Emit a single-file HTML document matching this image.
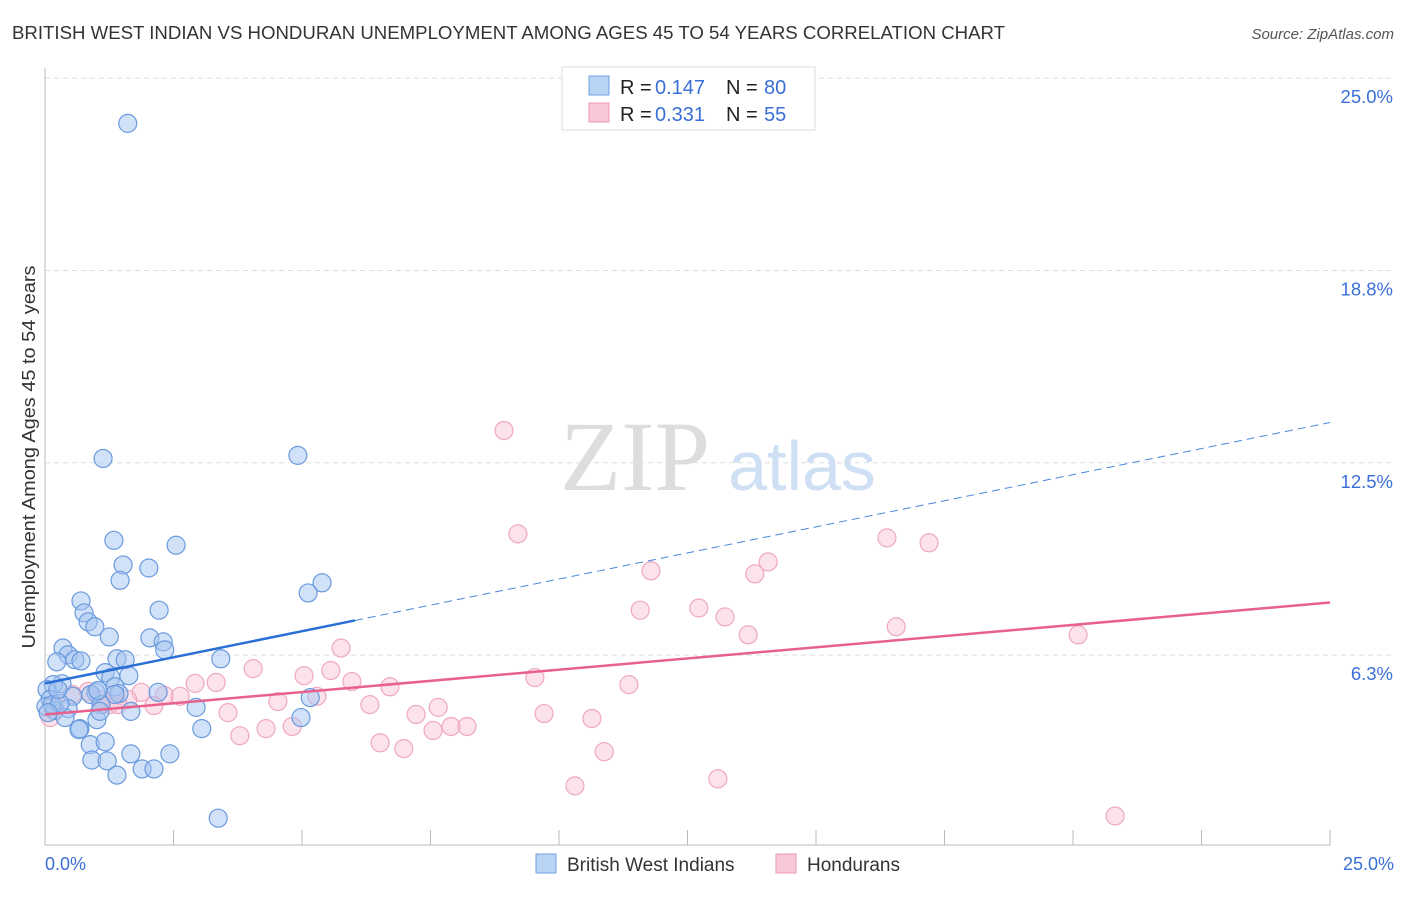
<!DOCTYPE html>
<html><head><meta charset="utf-8"><style>
body{margin:0;background:#fff;font-family:"Liberation Sans",sans-serif;}
svg text{font-family:"Liberation Sans",sans-serif;}
svg text.serif{font-family:"Liberation Serif",serif;}
</style></head><body>
<svg id="chart" width="1406" height="892">
<text x="12" y="39" font-size="18" fill="#333" textLength="993" lengthAdjust="spacingAndGlyphs">BRITISH WEST INDIAN VS HONDURAN UNEMPLOYMENT AMONG AGES 45 TO 54 YEARS CORRELATION CHART</text>
<text x="1394" y="39" font-size="15" fill="#555" font-style="italic" text-anchor="end">Source: ZipAtlas.com</text>
<g id="grid"></g>
<text class="serif" x="635" y="490" font-size="100" fill="#ddd" text-anchor="middle">ZIP</text>
<text x="802" y="490" font-size="70" fill="#cfe0f5" text-anchor="middle">atlas</text>
<line x1="45" y1="68" x2="45" y2="845" stroke="#bbb"/>
<line x1="45" y1="845" x2="1330" y2="845" stroke="#bbb"/>
<g id="xticks"></g>
<g id="points"></g>
<g id="trends"></g>
<text transform="translate(35,457) rotate(-90)" font-size="18.5" fill="#333" text-anchor="middle" textLength="383" lengthAdjust="spacingAndGlyphs">Unemployment Among Ages 45 to 54 years</text>
<text x="45" y="870" font-size="18" fill="#3a6fd8">0.0%</text>
<text x="1394" y="870" font-size="18" fill="#3a6fd8" text-anchor="end">25.0%</text>
<g>
<rect x="562" y="67" width="253" height="63" fill="#fff" stroke="#ddd"/>
<rect x="589" y="76" width="20" height="19" fill="#b9d3f5" stroke="#6fa0e0"/>
<rect x="589" y="103" width="20" height="19" fill="#f9c8d6" stroke="#e99ab4"/>
<g font-size="20">
<text x="620" y="94" fill="#222">R =</text><text x="655" y="94" fill="#3a6fd8">0.147</text>
<text x="726" y="94" fill="#222">N =</text><text x="764" y="94" fill="#3a6fd8">80</text></g>
<g font-size="20">
<text x="620" y="121" fill="#222">R =</text><text x="655" y="121" fill="#3a6fd8">0.331</text>
<text x="726" y="121" fill="#222">N =</text><text x="764" y="121" fill="#3a6fd8">55</text></g>
</g>
<g>
<rect x="536" y="854" width="20" height="19" fill="#b9d3f5" stroke="#6fa0e0"/>
<text x="567" y="871" font-size="19" fill="#333">British West Indians</text>
<rect x="776" y="854" width="20" height="19" fill="#f9c8d6" stroke="#e99ab4"/>
<text x="807" y="871" font-size="19" fill="#333">Hondurans</text>
</g>
</svg>
<script>
const yTicks=[6.25,12.5,18.75,25];
const yTickLabels=["6.3%","12.5%","18.8%","25.0%"];
const xTicks=[0,2.5,5,7.5,10,12.5,15,17.5,20,22.5,25];
const bwiX=[1.61,1.13,4.92,1.34,2.55,1.52,2.02,5.39,1.46,5.12,0.70,2.22,0.76,0.84,0.97,1.25,2.04,2.30,2.33,0.35,0.45,0.23,0.58,0.70,1.40,1.56,3.42,1.17,1.63,1.28,1.36,0.33,0.16,0.04,0.99,0.89,1.44,2.20,0.54,0.10,0.02,0.19,0.45,1.09,2.94,1.67,5.16,0.39,0.68,1.01,3.05,0.88,1.17,0.66,0.91,1.21,1.67,2.43,1.40,1.89,2.12,3.37,4.98,0.14,0.29,0.25,0.06,1.07,1.36,1.03];
const bwiY=[23.53,12.64,12.74,9.98,9.82,9.18,9.08,8.60,8.68,8.27,8.01,7.71,7.62,7.33,7.17,6.84,6.81,6.68,6.42,6.48,6.26,6.03,6.10,6.06,6.13,6.10,6.13,5.68,5.58,5.52,5.22,5.32,5.29,5.13,5.04,4.97,5.00,5.04,4.91,4.81,4.58,4.45,4.51,4.64,4.55,4.42,4.87,4.22,3.86,4.15,3.86,3.34,3.43,3.83,2.84,2.81,3.04,3.04,2.35,2.55,2.55,0.95,4.22,4.64,4.68,5.13,4.38,4.42,4.97,5.10];
const honX=[8.93,9.20,16.38,17.20,14.07,13.81,11.79,11.58,12.72,13.23,13.68,16.56,20.10,5.76,4.05,5.56,5.04,3.33,2.92,5.97,6.71,9.53,11.36,2.32,1.87,5.29,4.53,6.32,2.12,1.26,1.61,3.56,7.22,7.65,9.71,10.64,7.90,8.21,7.55,6.98,6.52,4.81,4.30,3.79,10.88,13.09,10.31,20.82,0.10,0.84,0.53,1.42,2.63,0.19,1.07];
const honY=[13.55,10.19,10.06,9.90,9.28,8.89,8.99,7.71,7.78,7.49,6.91,7.17,6.91,6.48,5.81,5.75,5.58,5.36,5.33,5.39,5.22,5.52,5.29,4.94,5.04,4.91,4.74,4.64,4.61,4.64,4.81,4.38,4.32,4.55,4.35,4.19,3.93,3.93,3.80,3.21,3.40,3.93,3.86,3.63,3.11,2.23,2.00,1.02,4.22,5.07,4.97,4.64,4.91,4.64,4.81];
const bwiTrend=[5.33,13.81];
const honTrend=[4.32,7.96];
const bwiSolidEnd=6.03;
const NS="http://www.w3.org/2000/svg";
const X=v=>45+v*51.4;
const Y=v=>847.4-v*30.77;
function mk(tag,attrs,parent){const e=document.createElementNS(NS,tag);for(const k in attrs)e.setAttribute(k,attrs[k]);parent.appendChild(e);return e;}
const grid=document.getElementById('grid');
yTicks.forEach((t,i)=>{
 const l=mk('line',{x1:45,x2:1394,y1:Y(t),y2:Y(t),stroke:'#ddd','stroke-dasharray':'5,4'},grid);
 
 
 const tx=mk('text',{x:1393,y:Y(t)+25,'font-size':18.5,fill:'#3a6fd8','text-anchor':'end'},grid);
 tx.textContent=yTickLabels[i];
 
 
});
const xt=document.getElementById('xticks');
xTicks.forEach(t=>{
 const l=mk('line',{x1:X(t),x2:X(t),y1:830,y2:845,stroke:'#bbb'},xt);
 
 
});
const pts=document.getElementById('points');
honX.forEach((x,i)=>{
 const c=mk('circle',{cx:X(x),cy:Y(honY[i]),r:9,fill:'rgba(248,190,208,0.45)',stroke:'#efa8c0','stroke-width':1.2},pts);
 
 
});
bwiX.forEach((x,i)=>{
 const c=mk('circle',{cx:X(x),cy:Y(bwiY[i]),r:9,fill:'rgba(164,196,240,0.5)',stroke:'#6a9ade','stroke-width':1.2},pts);
 
 
});
const tr=document.getElementById('trends');
const by=x=>bwiTrend[0]+(bwiTrend[1]-bwiTrend[0])*x/25;
let l1=mk('line',{x1:X(0),y1:Y(by(0)),x2:X(bwiSolidEnd),y2:Y(by(bwiSolidEnd)),stroke:'#2a6fd6','stroke-width':2.5},tr);


let l2=mk('line',{x1:X(bwiSolidEnd),y1:Y(by(bwiSolidEnd)),x2:X(25),y2:Y(by(25)),stroke:'#4a86dc','stroke-width':1,'stroke-dasharray':'8,5'},tr);


let l3=mk('line',{x1:X(0),y1:Y(honTrend[0]),x2:X(25),y2:Y(honTrend[1]),stroke:'#e8608c','stroke-width':2.5},tr);


</script>
</body></html>
